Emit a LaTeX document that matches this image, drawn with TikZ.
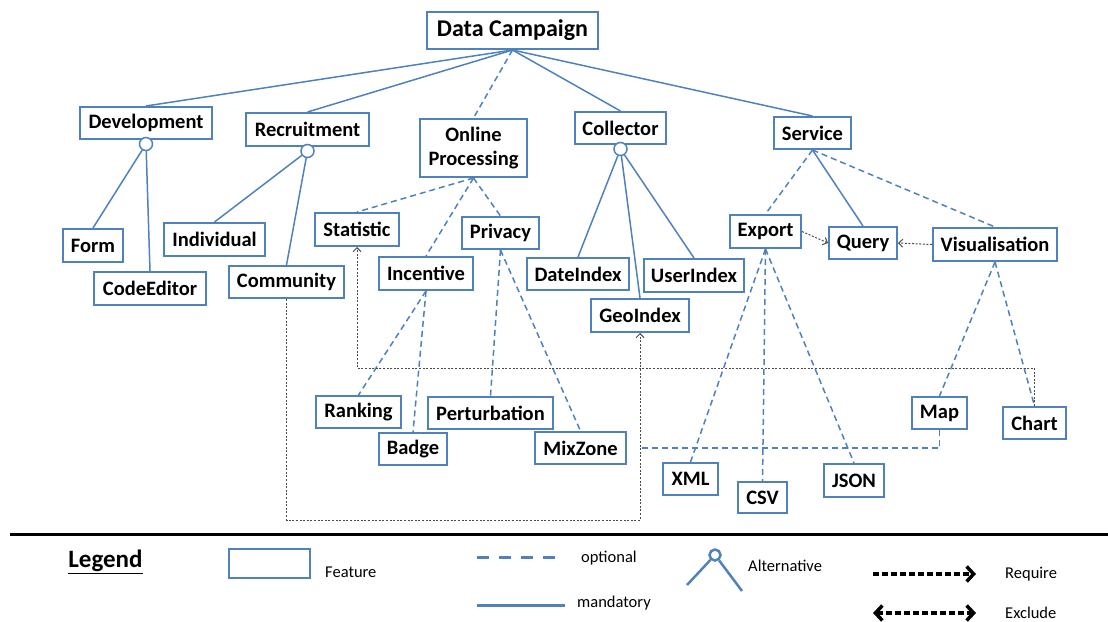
\documentclass[tikz,border=0pt]{standalone}
\usepackage{fontspec}
\setmainfont{Carlito}
\usetikzlibrary{arrows.meta,calc}
\definecolor{fblue}{HTML}{4F81BD}
\definecolor{rgray}{HTML}{4A4A4A}
\begin{document}
\begin{tikzpicture}[x=1pt,y=-1pt,
  feat/.style={draw=fblue,line width=2pt,fill=white,inner sep=0pt,text=black,
    font=\fontsize{20.5}{24}\selectfont\bfseries,align=center},
  mand/.style={draw=fblue,line width=1.5pt},
  opt/.style={draw=fblue,line width=1.5pt,dash pattern=on 6pt off 4pt},
  altc/.style={circle,draw=fblue,fill=white,line width=1.5pt,minimum size=13pt,inner sep=0pt},
  req/.style={draw=rgray,line width=1pt,dash pattern=on 2pt off 1.6pt,-{Straight Barb[length=4pt,width=8pt]}},
  lt/.style={font=\fontsize{16.5}{19}\selectfont,inner sep=0pt,anchor=west,text=black},
  legarrow/.style={draw=black,line width=4pt,dash pattern=on 6pt off 3pt},
  legtip/.tip={Straight Barb[length=7pt,width=15pt,line width=3.5pt]}
]
\useasboundingbox (0,0) rectangle (1108,621);

% ---- features ----
\node[feat,minimum width=171pt,minimum height=37pt,font=\fontsize{24}{28}\selectfont\bfseries] (dc) at (512.5,30.5) {Data Campaign};
\node[feat,minimum width=132pt,minimum height=32pt] (dev) at (146,123) {Development};
\node[feat,minimum width=123pt,minimum height=33pt] (rec) at (307.5,129.5) {Recruitment};
\node[feat,minimum width=107pt,minimum height=58pt] (onl) at (473.5,148) {Online\\Processing};
\node[feat,minimum width=91pt,minimum height=32pt] (col) at (620.5,128) {Collector};
\node[feat,minimum width=77pt,minimum height=32pt] (ser) at (812.5,133) {Service};
\node[feat,minimum width=60pt,minimum height=33pt] (form) at (93,245.5) {Form};
\node[feat,minimum width=112pt,minimum height=33pt] (code) at (150,288.5) {CodeEditor};
\node[feat,minimum width=101pt,minimum height=33pt] (ind) at (214.5,239.5) {Individual};
\node[feat,minimum width=115pt,minimum height=32pt] (com) at (286.5,282) {Community};
\node[feat,minimum width=84pt,minimum height=33pt] (sta) at (357,229.5) {Statistic};
\node[feat,minimum width=94pt,minimum height=33pt] (inc) at (426,273.5) {Incentive};
\node[feat,minimum width=77pt,minimum height=32pt] (pri) at (500.5,233) {Privacy};
\node[feat,minimum width=102pt,minimum height=32pt] (dat) at (578,274) {DateIndex};
\node[feat,minimum width=100pt,minimum height=33pt] (usr) at (694,275.5) {UserIndex};
\node[feat,minimum width=98pt,minimum height=33pt] (geo) at (640,315.5) {GeoIndex};
\node[feat,minimum width=71pt,minimum height=33pt] (exp) at (765.5,231.5) {Export};
\node[feat,minimum width=68pt,minimum height=32pt] (que) at (863,243) {Query};
\node[feat,minimum width=124pt,minimum height=33pt] (vis) at (995,244.5) {Visualisation};
\node[feat,minimum width=85pt,minimum height=32pt] (ran) at (358.5,412) {Ranking};
\node[feat,minimum width=68pt,minimum height=32pt] (bad) at (413,449) {Badge};
\node[feat,minimum width=125pt,minimum height=32pt] (per) at (490.5,413) {Perturbation};
\node[feat,minimum width=91pt,minimum height=32pt] (mix) at (580.5,448) {MixZone};
\node[feat,minimum width=55pt,minimum height=32pt] (map) at (939.5,413) {Map};
\node[feat,minimum width=63pt,minimum height=32pt] (cha) at (1034.5,423) {Chart};
\node[feat,minimum width=55pt,minimum height=32pt] (xml) at (690.5,479) {XML};
\node[feat,minimum width=49pt,minimum height=31pt] (csv) at (762.5,497.5) {CSV};
\node[feat,minimum width=60pt,minimum height=33pt] (jso) at (854,480.5) {JSON};

% ---- tree connectors ----
\draw[mand] (dc.south) -- (dev.north);
\draw[mand] (dc.south) -- (rec.north);
\draw[opt]  (dc.south) -- (onl.north);
\draw[mand] (dc.south) -- (col.north);
\draw[mand] (dc.south) -- (ser.north);

\node[altc] (devc) at ($(dev.south)+(0,4)$) {};
\node[altc] (recc) at ($(rec.south)+(0,4)$) {};
\node[altc] (colc) at ($(col.south)+(0,4)$) {};
\draw[mand] (devc) -- (form.north);
\draw[mand] (devc) -- (code.north);
\draw[mand] (recc) -- (ind.north);
\draw[mand] (recc) -- (com.north);
\draw[mand] (colc) -- (dat.north);
\draw[mand] (colc) -- (geo.north);
\draw[mand] (colc) -- (usr.north);

\draw[opt] (onl.south) -- (sta.north);
\draw[opt] (onl.south) -- (inc.north);
\draw[opt] (onl.south) -- (pri.north);
\draw[opt] (inc.south) -- (ran.north);
\draw[opt] (inc.south) -- (bad.north);
\draw[opt] (pri.south) -- (per.north);
\draw[opt] (pri.south) -- (mix.north);

\draw[opt]  (ser.south) -- (exp.north);
\draw[mand] (ser.south) -- (que.north);
\draw[opt]  (ser.south) -- (vis.north);
\draw[opt] (exp.south) -- (xml.north);
\draw[opt] (exp.south) -- (csv.north);
\draw[opt] (exp.south) -- (jso.north);
\draw[opt] (vis.south) -- (map.north);
\draw[opt] (vis.south) -- (cha.north);

% ---- require links ----
\coordinate (ya) at (0,368);
\coordinate (yb) at (0,520);
\coordinate (yc) at (0,448);
\draw[req] (cha.north) |- (ya -| sta.south) -- (sta.south);
\draw[req] (com.south) |- (yb -| geo.south) -- (geo.south);
\draw[opt] (map.south) |- (yc -| geo.south);
\draw[req] (exp.east) -- (que.west);
\draw[req] (vis.west) -- (que.east);

% ---- legend ----
\coordinate (la) at (10,534);
\coordinate (lb) at (1108,534);
\draw[black,line width=3pt] (la) -- (lb);
\node[inner sep=0pt,font=\fontsize{25}{30}\selectfont\bfseries] (legT) at (105.5,562) {\underline{Legend}};
\node[draw=fblue,line width=2.5pt,minimum width=81pt,minimum height=29pt,inner sep=0pt] (lfeat) at (269.5,563.5) {};
\node[lt] (lfeatT) at (325,572) {Feature};
\coordinate (lo1) at (477,557);
\coordinate (lo2) at (555,557);
\draw[fblue,line width=3pt,dash pattern=on 12pt off 10pt] (lo1) -- (lo2);
\node[lt] (loptT) at (581,558) {optional};
\coordinate (lm1) at (477,605);
\coordinate (lm2) at (565,605);
\draw[fblue,line width=3pt] (lm1) -- (lm2);
\node[lt] (lmanT) at (577,603) {mandatory};
\node[circle,draw=fblue,line width=2.5pt,minimum size=11pt,inner sep=0pt] (lalt) at (715,555) {};
\coordinate (lal) at (687,585);
\coordinate (lar) at (742,591);
\draw[fblue,line width=2.5pt] (lalt) -- (lal);
\draw[fblue,line width=2.5pt] (lalt) -- (lar);
\node[lt] (laltT) at (748,566) {Alternative};
\coordinate (lr1) at (873,574);
\coordinate (lr2) at (976,574);
\draw[legarrow,-legtip] (lr1) -- (lr2);
\node[lt] (lreqT) at (1005,574) {Require};
\coordinate (le1) at (873,613);
\coordinate (le2) at (976,613);
\draw[legarrow,legtip-legtip] (le1) -- (le2);
\node[lt] (lexcT) at (1005,613) {Exclude};
\end{tikzpicture}
\end{document}
